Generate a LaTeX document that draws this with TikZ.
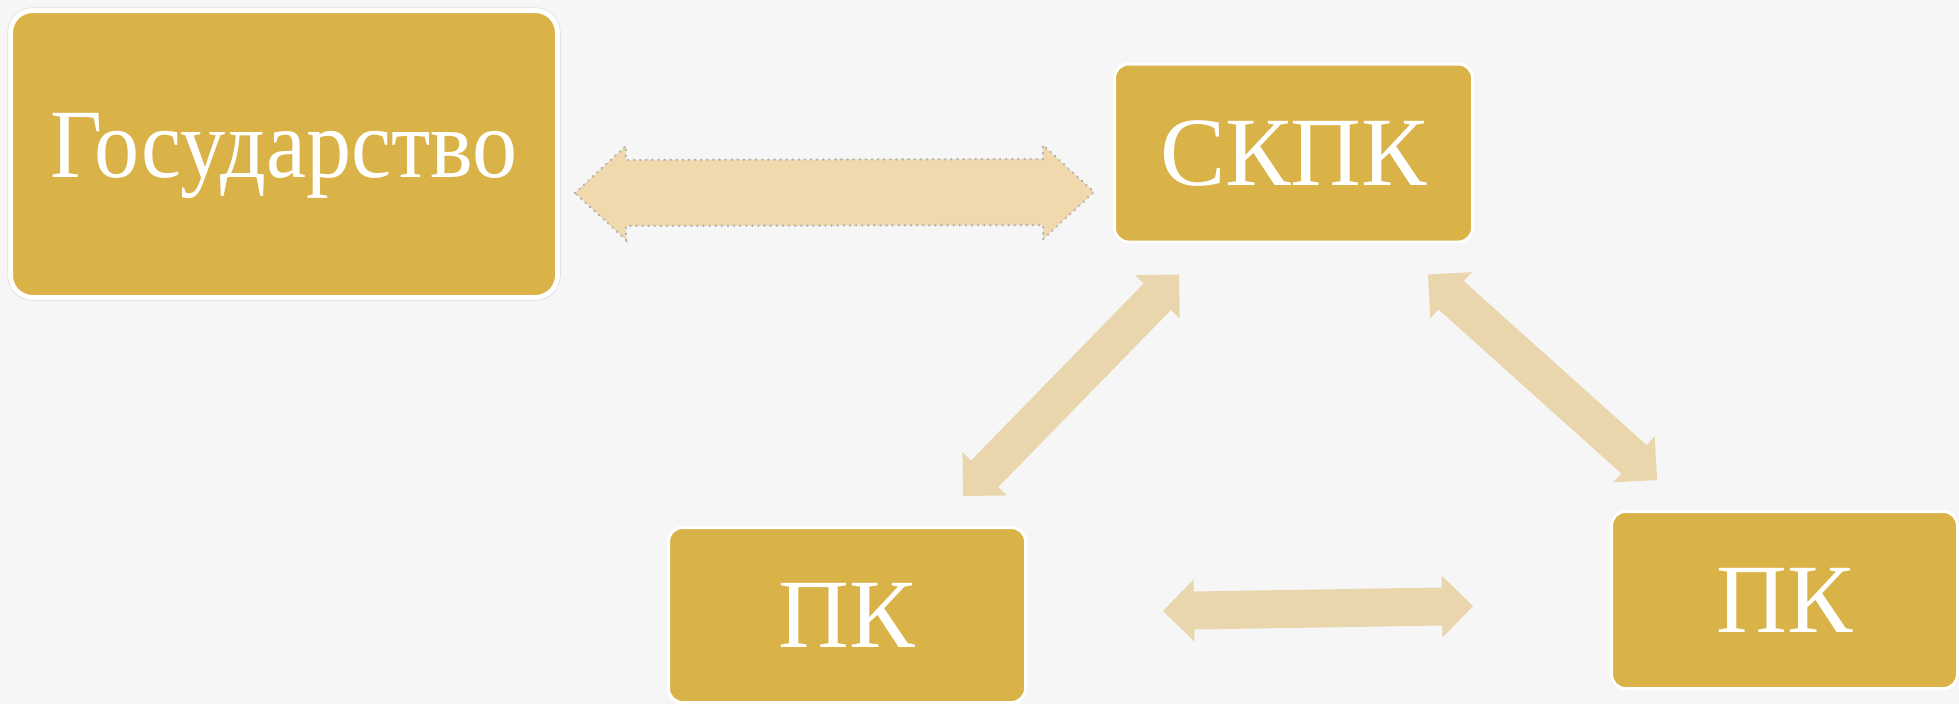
\documentclass[tikz,border=0pt]{standalone}
\usepackage{fontspec}
\setmainfont{Liberation Serif}
\newfontfamily\govfont[FakeStretch=0.92]{Liberation Serif}
\usetikzlibrary{calc}
\definecolor{bgcol}{RGB}{246,246,246}
\definecolor{goldbox}{RGB}{217,179,72}
\definecolor{tanarrow}{RGB}{233,214,172}
\definecolor{toparrow}{RGB}{241,217,174}
\tikzset{
  gbox/.style={rectangle, rounded corners=14pt, fill=goldbox, draw=white, line width=3pt,
    text=white, font=\fontsize{98}{110}\selectfont, text height=65pt, text depth=0pt, inner sep=0pt},
  govbox/.style={gbox, rounded corners=22pt, line width=5pt,
    preaction={draw=gray!35, line width=6pt}, font=\govfont\fontsize{98}{110}\selectfont, text depth=18pt},
  plainarrow/.style={fill=tanarrow, draw=none},
  dotarrow/.style={fill=toparrow, draw=gray!60, line width=2.6pt, dash pattern=on 0.1pt off 6pt, line cap=round}
}
% #1 style, #2 start tip, #3 end tip, #4 shaft half width, #5 head half width, #6 head length
\newcommand\blockarrow[6]{%
  \coordinate (ba1) at ($(#2)!#6!(#3)$);
  \coordinate (ba2) at ($(#3)!#6!(#2)$);
  \path[#1] (#2) -- ($(ba1)!#5!90:(#3)$) -- ($(ba1)!#4!90:(#3)$)
    -- ($(ba2)!#4!-90:(#2)$) -- ($(ba2)!#5!-90:(#2)$) -- (#3)
    -- ($(ba2)!#5!90:(#2)$) -- ($(ba2)!#4!90:(#2)$)
    -- ($(ba1)!#4!-90:(#3)$) -- ($(ba1)!#5!-90:(#3)$) -- cycle;
}
\begin{document}
\begin{tikzpicture}[x=1pt,y=-1pt]
\fill[bgcol] (0,0) rectangle (1959,704);
\useasboundingbox (0,0) rectangle (1959,704);

\node[govbox, minimum width=547pt, minimum height=287pt] (gov) at (284,154) {Государство};
\node[gbox, minimum width=358pt, minimum height=178pt] (skpk) at (1293.5,153) {СКПК};
\node[gbox, minimum width=357pt, minimum height=175pt] (pk1) at (847,615) {ПК};
\node[gbox, minimum width=346pt, minimum height=177pt] (pk2) at (1784.5,600) {ПК};

% arrow tips anchored to the boxes
\coordinate (t1a) at ($(gov.east)+(15,39)$);
\coordinate (t1b) at ($(skpk.west)+(-19,39)$);
\coordinate (t2a) at ($(skpk.south west)+(66,31)$);
\coordinate (t2b) at ($(pk1.north east)+(-64,-30)$);
\coordinate (t3a) at ($(skpk.south east)+(-46,31)$);
\coordinate (t3b) at ($(pk2.north west)+(47,-30)$);
\coordinate (t4a) at ($(pk1.east)+(136,-4)$);
\coordinate (t4b) at ($(pk2.west)+(-137,6)$);

\blockarrow{dotarrow}{t1a}{t1b}{33pt}{47pt}{51pt}
\blockarrow{plainarrow}{t2a}{t2b}{19pt}{31pt}{31pt}
\blockarrow{plainarrow}{t3a}{t3b}{19pt}{31pt}{31pt}
\blockarrow{plainarrow}{t4a}{t4b}{19pt}{31pt}{31pt}
\end{tikzpicture}
\end{document}
